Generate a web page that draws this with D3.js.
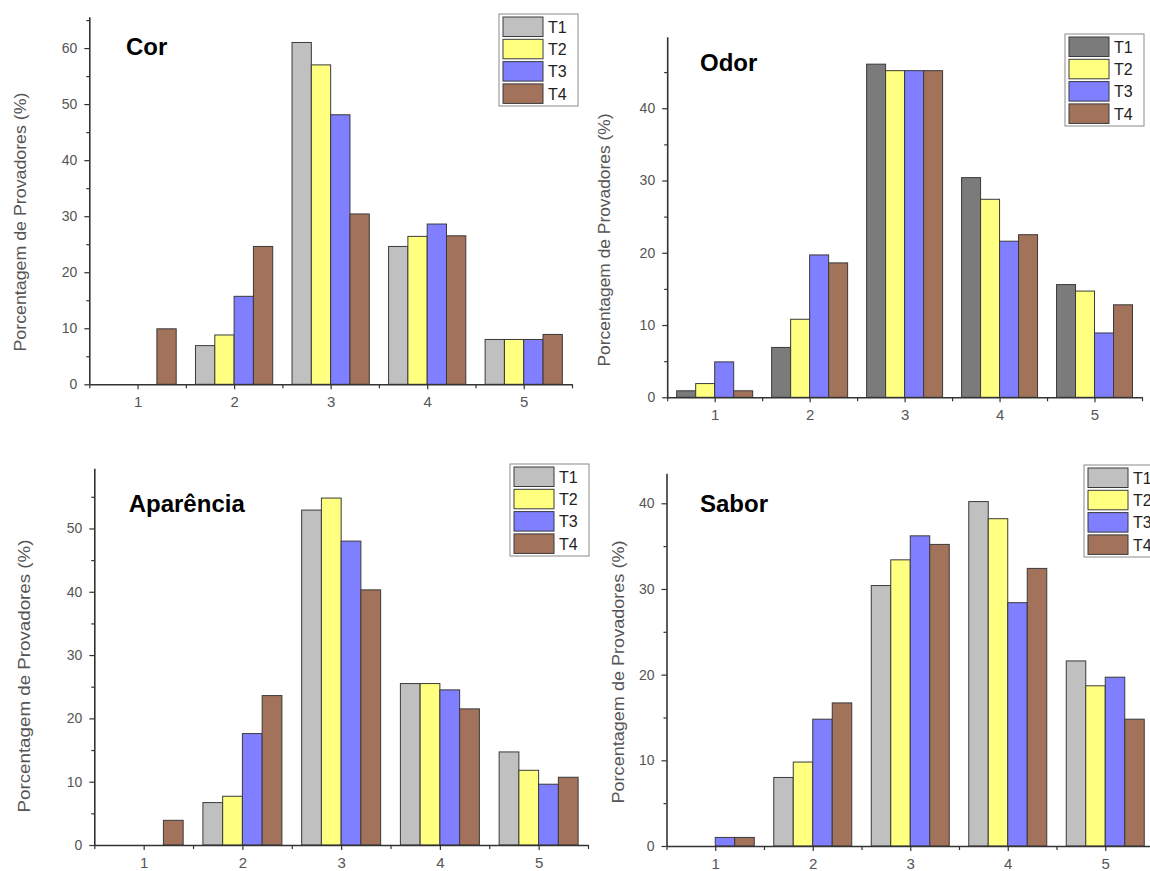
<!DOCTYPE html>
<html>
<head>
<meta charset="utf-8">
<script src="https://cdn.jsdelivr.net/npm/d3@7"></script>
<style>
  body { margin: 0; background: #fff; }
  svg { display: block; font-family: "Liberation Sans", Arial, sans-serif; }
</style>
</head>
<body>
<svg id="chart" width="1150" height="871"></svg>
<script>
// Hedonic scale scores and treatments
const categories = [1, 2, 3, 4, 5];
const seriesNames = ["T1", "T2", "T3", "T4"];
const yTitle = "Porcentagem de Provadores (%)";

// Percentage of panelists per score, one array per treatment
const corT1 = [0, 6.9, 61.0, 24.6, 8.0];
const corT2 = [0, 8.8, 57.0, 26.4, 8.0];
const corT3 = [0, 15.7, 48.1, 28.6, 8.0];
const corT4 = [9.9, 24.6, 30.4, 26.5, 8.9];

const odorT1 = [0.9, 6.9, 46.1, 30.4, 15.6];
const odorT2 = [1.9, 10.8, 45.2, 27.4, 14.7];
const odorT3 = [4.9, 19.7, 45.2, 21.6, 8.9];
const odorT4 = [0.9, 18.6, 45.2, 22.5, 12.8];

const aparenciaT1 = [0, 6.7, 52.9, 25.5, 14.7];
const aparenciaT2 = [0, 7.7, 54.8, 25.5, 11.8];
const aparenciaT3 = [0, 17.6, 48.0, 24.5, 9.6];
const aparenciaT4 = [3.9, 23.6, 40.3, 21.5, 10.7];

const saborT1 = [0, 8.0, 30.4, 40.2, 21.6];
const saborT2 = [0, 9.8, 33.4, 38.2, 18.7];
const saborT3 = [1.0, 14.8, 36.2, 28.4, 19.7];
const saborT4 = [1.0, 16.7, 35.2, 32.4, 14.8];

// y tick values per panel
const corTicks = [0, 10, 20, 30, 40, 50, 60];
const odorTicks = [0, 10, 20, 30, 40];
const aparenciaTicks = [0, 10, 20, 30, 40, 50];
const saborTicks = [0, 10, 20, 30, 40];

// Fill colours
const fillsLight = ["#c0c0c0", "#ffff80", "#7f7fff", "#a3725a"];
const fillsDark = ["#7b7b7b", "#ffff80", "#7f7fff", "#a3725a"];

const panels = [
  { title: "Cor", series: [corT1, corT2, corT3, corT4], ticks: corTicks, yMax: 65.6, fills: fillsLight,
    left: 89.3, right: 572, base: 384.3, top: 16.7,
    titleX: 126, titleY: 55, labelX: 20, labelY: 222, labelLen: 259, legX: 499, legY: 14 },
  { title: "Odor", series: [odorT1, odorT2, odorT3, odorT4], ticks: odorTicks, yMax: 49.9, fills: fillsDark,
    left: 667.2, right: 1142, base: 397.3, top: 36.7,
    titleX: 700, titleY: 70.7, labelX: 604, labelY: 240, labelLen: 253, legX: 1065, legY: 34 },
  { title: "Aparência", series: [aparenciaT1, aparenciaT2, aparenciaT3, aparenciaT4], ticks: aparenciaTicks, yMax: 59.5, fills: fillsLight,
    left: 94.3, right: 588, base: 845, top: 468.3,
    titleX: 128.7, titleY: 512, labelX: 24, labelY: 676, labelLen: 273, legX: 510, legY: 464 },
  { title: "Sabor", series: [saborT1, saborT2, saborT3, saborT4], ticks: saborTicks, yMax: 43.5, fills: fillsLight,
    left: 666.5, right: 1154, base: 846, top: 473.3,
    titleX: 700, titleY: 512, labelX: 618, labelY: 672, labelLen: 263, legX: 1084, legY: 465 }
];

const svg = d3.select("#chart");
const axisColor = "#333";
const textColor = "#555";
const groupWidth = 0.8;

panels.forEach(p => {
  const g = svg.append("g");
  const x = d3.scaleLinear().domain([0.5, 5.5]).range([p.left, p.right]);
  const y = d3.scaleLinear().domain([0, p.yMax]).range([p.base, p.top]);
  const barW = groupWidth / seriesNames.length;

  // bars
  p.series.forEach((vals, si) => {
    g.selectAll(null)
      .data(categories.map((c, ci) => ({ c, v: vals[ci] })).filter(d => d.v > 0))
      .enter().append("rect")
      .attr("x", d => x(d.c - groupWidth / 2 + si * barW))
      .attr("width", x(barW) - x(0))
      .attr("y", d => y(d.v))
      .attr("height", d => y(0) - y(d.v))
      .attr("fill", p.fills[si])
      .attr("stroke", "#3a3a3a")
      .attr("stroke-width", 1);
  });

  // y axis: major + minor ticks
  const minorY = d3.range(5, p.yMax, 10);
  const yMinor = g.append("g").attr("transform", `translate(${p.left},0)`)
    .call(d3.axisLeft(y).tickValues(minorY).tickSize(3).tickSizeOuter(0).tickFormat(""));
  yMinor.select(".domain").remove();
  const yAx = g.append("g").attr("transform", `translate(${p.left},0)`)
    .call(d3.axisLeft(y).tickValues(p.ticks).tickSize(5).tickSizeOuter(0).tickPadding(7));
  yAx.selectAll(".tick text").attr("font-size", 14);

  // x axis: category ticks + half-step ticks
  const halfTicks = d3.range(0.5, 6, 1);
  const xMinor = g.append("g").attr("transform", `translate(0,${p.base})`)
    .call(d3.axisBottom(x).tickValues(halfTicks).tickSize(4).tickSizeOuter(0).tickFormat(""));
  xMinor.select(".domain").remove();
  const xAx = g.append("g").attr("transform", `translate(0,${p.base})`)
    .call(d3.axisBottom(x).tickValues(categories).tickSize(5).tickSizeOuter(0).tickPadding(7).tickFormat(d3.format("d")));
  xAx.selectAll(".tick text").attr("font-size", 15);

  g.selectAll(".domain").attr("stroke", axisColor).attr("stroke-width", 1.6);
  g.selectAll(".tick line").attr("stroke", axisColor).attr("stroke-width", 1.2);
  g.selectAll(".tick text").attr("fill", textColor)
    .attr("font-family", "'Liberation Sans', Arial, sans-serif");

  // y axis title
  g.append("text")
    .attr("transform", `translate(${p.labelX},${p.labelY}) rotate(-90)`)
    .attr("text-anchor", "middle")
    .attr("dy", "0.35em")
    .attr("font-size", 17)
    .attr("fill", textColor)
    .attr("textLength", p.labelLen)
    .attr("lengthAdjust", "spacingAndGlyphs")
    .text(yTitle);

  // panel title
  g.append("text")
    .attr("x", p.titleX).attr("y", p.titleY)
    .attr("font-size", 24).attr("font-weight", "bold").attr("fill", "#000")
    .text(p.title);

  // legend
  const leg = g.append("g").attr("transform", `translate(${p.legX},${p.legY})`);
  leg.append("rect").attr("width", 79).attr("height", 92)
    .attr("fill", "#fff").attr("stroke", "#8a8a8a").attr("stroke-width", 1);
  seriesNames.forEach((name, i) => {
    leg.append("rect")
      .attr("x", 4).attr("y", 3 + i * 22.3)
      .attr("width", 40).attr("height", 19.5)
      .attr("fill", p.fills[i]).attr("stroke", "#3a3a3a").attr("stroke-width", 1);
    leg.append("text")
      .attr("x", 49).attr("y", 3 + i * 22.3 + 10)
      .attr("dy", "0.36em")
      .attr("font-size", 16).attr("fill", "#222")
      .text(name);
  });
});
</script>
</body>
</html>
